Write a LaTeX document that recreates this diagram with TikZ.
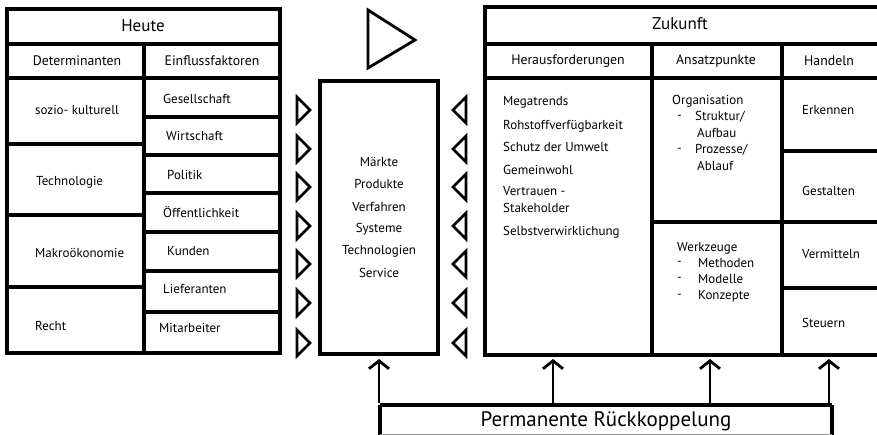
\documentclass[tikz,border=0pt]{standalone}
\usepackage{fontspec}
\setmainfont{PT Sans}
\usetikzlibrary{arrows.meta}
\begin{document}
\begin{tikzpicture}[
    x=1pt, y=-1pt,
    rahmen/.style={line width=3.2pt},
    dreieck/.style={line width=2.8pt, line join=miter},
    pfeil/.style={line width=2.8pt, -{Straight Barb[length=8pt,width=20pt]}},
    titel/.style={font=\fontsize{17}{20}\selectfont},
    kopf/.style={font=\fontsize{13.8}{16}\selectfont},
    eintrag/.style={anchor=west, inner sep=0pt, font=\fontsize{13}{15}\selectfont},
    liste/.style={inner sep=0pt, font=\fontsize{13}{15}\selectfont}
]
\useasboundingbox (0,0) rectangle (877,435);

% Heute block
\draw[rahmen] (7,9) rectangle (280,353);
\draw[rahmen] (7,44) -- (280,44);
\draw[rahmen] (7,78) -- (280,78);
\draw[rahmen] (144,44) -- (144,353);
\foreach \y in {144,215,287} \draw[rahmen] (7,\y) -- (144,\y);
\foreach \y in {117,155,193,232,271,312} \draw[rahmen] (144,\y) -- (280,\y);
\node[titel] (heute) at (143,26) {Heute};
\node[kopf] (determ) at (77,61) {Determinanten};
\node[kopf] (einfl) at (212,61) {Einflussfaktoren};

\node[eintrag] (sozio) at (35,110) {sozio- kulturell};
\node[eintrag] (techno) at (36,182) {Technologie};
\node[eintrag] (makro) at (35,253) {Makroökonomie};
\node[eintrag] (recht) at (35,326) {Recht};

\node[eintrag] (gesell) at (163,99) {Gesellschaft};
\node[eintrag] (wirt) at (166,136) {Wirtschaft};
\node[eintrag] (politik) at (167,175) {Politik};
\node[eintrag] (oeff) at (163,212) {Öffentlichkeit};
\node[eintrag] (kunden) at (167,251) {Kunden};
\node[eintrag] (liefer) at (163,289) {Lieferanten};
\node[eintrag] (mitarb) at (159,328) {Mitarbeiter};

% big triangle
\draw[dreieck] (368,10) -- (415,40) -- (368,68) -- cycle;

% middle box and small triangles
\draw[rahmen] (320,81) rectangle (438,354);
\foreach \y in {110,149,187,226,264,303,343} {
  \draw[dreieck] (297,\y-13) -- (310,\y) -- (297,\y+13) -- cycle;
  \draw[dreieck] (466,\y-13) -- (453,\y) -- (466,\y+13) -- cycle;
}
\node[liste] (maerkte) at (379,162) {Märkte};
\node[liste] (produkte) at (379,184) {Produkte};
\node[liste] (verfahren) at (379,207) {Verfahren};
\node[liste] (systeme) at (379,229) {Systeme};
\node[liste] (technol) at (379,251) {Technologien};
\node[liste] (service) at (379,273) {Service};

% Zukunft block
\draw[rahmen] (890,7) -- (485,7) -- (485,355) -- (890,355);
\draw[rahmen] (485,44) -- (890,44);
\draw[rahmen] (485,78) -- (890,78);
\draw[rahmen] (652,44) -- (652,355);
\draw[rahmen] (782,44) -- (782,355);
\draw[rahmen] (652,222) -- (890,222);
\draw[rahmen] (782,151) -- (890,151);
\draw[rahmen] (782,288) -- (890,288);
\node[titel] (zukunft) at (680,24) {Zukunft};
\node[kopf] (heraus) at (568,61) {Herausforderungen};
\node[kopf] (ansatz) at (716,61) {Ansatzpunkte};
\node[kopf] (handeln) at (829,61) {Handeln};

\node[eintrag] (mega) at (503,102) {Megatrends};
\node[eintrag] (rohstoff) at (503,126) {Rohstoffverfügbarkeit};
\node[eintrag] (schutz) at (503,147) {Schutz der Umwelt};
\node[eintrag] (gemein) at (503,170) {Gemeinwohl};
\node[eintrag] (vertrauen) at (503,191) {Vertrauen -};
\node[eintrag] (stake) at (503,208) {Stakeholder};
\node[eintrag] (selbst) at (503,232) {Selbstverwirklichung};

\node[eintrag] (orga) at (672,101) {Organisation};
\node[eintrag] (strich1) at (677,117) {-};
\node[eintrag] (struktur) at (695,117) {Struktur/};
\node[eintrag] (aufbau) at (697,133) {Aufbau};
\node[eintrag] (strich2) at (677,150) {-};
\node[eintrag] (prozesse) at (695,150) {Prozesse/};
\node[eintrag] (ablauf) at (697,166) {Ablauf};

\node[eintrag] (werkz) at (677,248) {Werkzeuge};
\node[eintrag] (strich3) at (677,263) {-};
\node[eintrag] (methoden) at (698,263) {Methoden};
\node[eintrag] (strich4) at (677,279) {-};
\node[eintrag] (modelle) at (698,279) {Modelle};
\node[eintrag] (strich5) at (677,296) {-};
\node[eintrag] (konzepte) at (698,296) {Konzepte};

\node[eintrag] (erkennen) at (802,110) {Erkennen};
\node[eintrag] (gestalten) at (802,191) {Gestalten};
\node[eintrag] (vermitteln) at (802,254) {Vermitteln};
\node[eintrag] (steuern) at (802,323) {Steuern};

% Rueckkoppelung
\draw[rahmen] (380,405) -- (380,440);
\draw[rahmen] (832,405) -- (832,440);
\draw[rahmen] (380,405) -- (832,405);
\draw[line width=1pt, black!40] (380,434.5) -- (832,434.5);
\node[font=\fontsize{21}{24}\selectfont] (rueck) at (606,421) {Permanente Rückkoppelung};
\foreach \i/\x in {1/379,2/553,3/710,4/829} {
  \coordinate (unten\i) at (\x,403);
  \coordinate (oben\i) at (\x,359);
  \draw[pfeil] (unten\i) -- (oben\i);
}
\end{tikzpicture}
\end{document}
